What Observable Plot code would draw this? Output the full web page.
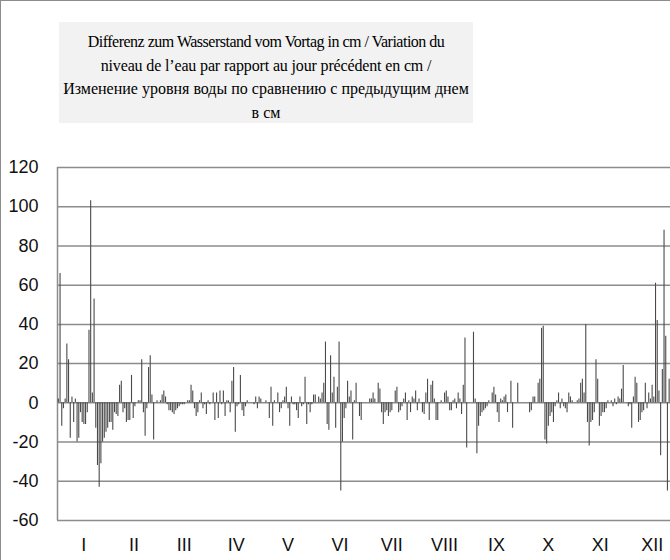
<!DOCTYPE html>
<html>
<head>
<meta charset="utf-8">
<script src="https://cdn.jsdelivr.net/npm/d3@7"></script>
<script src="https://cdn.jsdelivr.net/npm/@observablehq/plot@0.6"></script>
<style>
  html, body { margin: 0; padding: 0; background: #fff; overflow: hidden; width: 670px; height: 560px; }
  #frame { position: absolute; left: 0; top: 0; width: 900px; height: 900px; border-left: 1.5px solid #8c8c8c; border-top: 1.5px solid #8c8c8c; box-sizing: border-box; }
  #title { position: absolute; left: 59px; top: 22px; width: 414px; height: 101px; background: #f2f2f2;
           font-family: "Liberation Serif", "Times New Roman", serif; font-size: 16px; line-height: 23.5px;
           text-align: center; color: #000; box-sizing: border-box; padding-top: 8px; }
  #title .l1 { letter-spacing: -0.5px; }
  #title .l2 { letter-spacing: -0.15px; }
  #chart { position: absolute; left: 0; top: 0; }
</style>
</head>
<body>
<div id="frame"></div>
<div id="title"><span class="l1">Differenz zum Wasserstand vom Vortag in cm / Variation du</span><br><span class="l2">niveau de l’eau par rapport au jour précédent en cm /</span><br>Изменение уровня воды по сравнению с предыдущим днем<br>в см</div>
<div id="chart"></div>
<script>
const monthLabels = ["I","II","III","IV","V","VI","VII","VIII","IX","X","XI","XII"];
const monthDays = [31,28,31,30,31,30,31,31,30,31,30,31];
const yTicks = [-60,-40,-20,0,20,40,60,80,100,120];

const jan = [2,66,-12,-3,2,30,22,-18,3,-10,2,-20,-18,-5,-10,-11,-11,-5,37,103,5,53,-13,-32,-43,-31,-20,-18,-15,-13,-10];
const feb = [-10,-14,-5,-6,-7,9,11,-5,-3,-10,-9,-9,14,-8,-2,0,1,1,22,-5,-17,-3,18,24,4,-19,0,1];
const mar = [0,1,4,6,3,-1,-4,-4,-5,-6,-4,-3,-2,-1,-1,-1,0,1,1,9,6,-3,-7,-5,1,5,-3,-1,-6,1,-1];
const apr = [0,5,-9,5,-8,6,-1,6,-7,1,1,-5,11,18,-15,-2,-1,14,-4,-7,-2,1,0,0,0,-1,3,-3,3,2];
const may = [0,0,1,0,-8,8,-12,1,0,5,-5,-3,1,3,8,-3,-12,3,-1,-1,-4,-8,3,-2,-1,13,-11,-1,-5,-1,4];
const jun = [4,0,3,2,5,10,31,-11,-14,24,5,13,-13,8,31,-45,-20,-8,-3,11,3,6,-19,1,10,0,-7,-9,0,0];
const jul = [0,0,2,2,5,2,0,10,7,-5,-11,-5,-4,-7,-5,-4,0,6,8,-5,-4,-2,2,5,-9,1,-5,3,2,6,-4];
const aug = [2,0,-5,-6,5,12,-9,9,11,2,-9,-9,0,1,0,5,6,3,-4,-4,1,2,-3,5,2,-6,9,33,-23,0,0];
const sep = [0,36,2,-26,-12,-7,-5,-4,-3,-2,1,0,5,8,4,-5,-10,2,1,3,4,-5,0,11,-13,0,0,10,0,0];
const oct = [0,0,0,0,-5,-4,3,3,0,10,12,38,39,-19,-21,-12,-7,-5,-10,-2,1,5,-3,2,-2,-3,-5,5,3,1,0];
const nov = [0,1,2,10,12,5,40,-10,-22,-10,-9,-5,22,12,-12,-7,-5,-5,-3,1,0,1,-2,2,-1,3,2,7,19,0];
const dec = [0,-2,-1,-13,3,13,10,-10,-9,-5,-4,10,-3,5,2,9,3,61,42,6,-27,17,88,34,-45,12,-8,5,-3,2,-1];

const months = [jan,feb,mar,apr,may,jun,jul,aug,sep,oct,nov,dec];
const data = [];
const centers = [];
let start = 0;
months.forEach((vals, m) => {
  vals.forEach((v, i) => data.push({day: start + i, value: v}));
  centers.push({label: monthLabels[m], x: start + monthDays[m] / 2});
  start += monthDays[m];
});

const grid = "#8c8c8c";
const chart = Plot.plot({
  width: 678,
  height: 560,
  marginLeft: 57,
  marginRight: 0,
  marginTop: 167,
  marginBottom: 40,
  x: {domain: [0, 365], axis: null, label: null},
  y: {domain: [-60, 120], axis: null, label: null},
  style: {background: "none", maxWidth: "none", overflow: "visible",
          fontFamily: "'Liberation Sans', Arial, sans-serif", color: "#111"},
  marks: [
    Plot.ruleY(yTicks, {stroke: grid, strokeWidth: 1.5}),
    Plot.ruleX([0], {stroke: grid, strokeWidth: 1.5}),
    Plot.ruleX(data, {x: d => d.day + 0.5, y1: 0, y2: "value", stroke: "#4a4a4a", strokeWidth: 1.1}),
    Plot.axisY(yTicks, {tickSize: 0, tickPadding: 19, fontSize: 18, label: null, tickFormat: d => String(d)}),
    Plot.text(centers, {x: "x", text: "label", frameAnchor: "bottom", dy: 30, fontSize: 18})
  ]
});
document.getElementById("chart").appendChild(chart);
</script>
</body>
</html>
